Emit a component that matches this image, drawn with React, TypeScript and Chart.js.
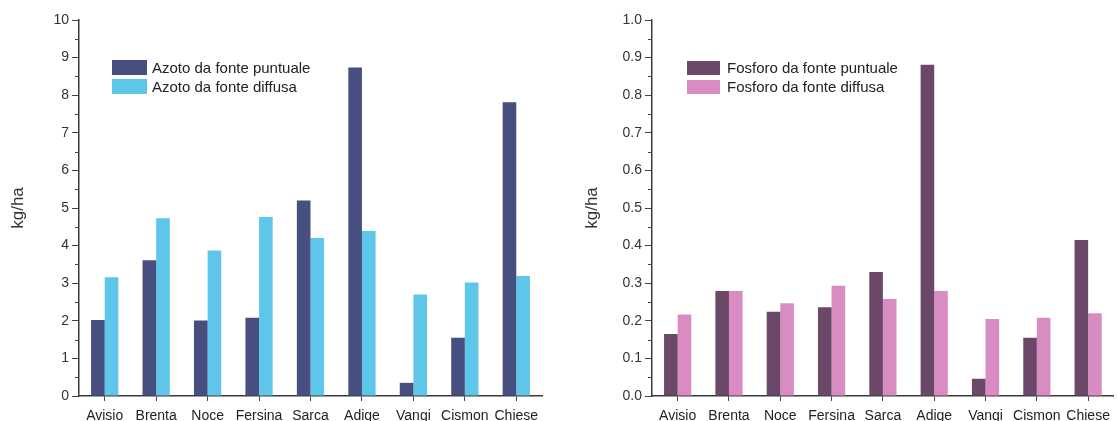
import React, { useEffect, useRef } from 'react';
import { Chart, registerables } from 'chart.js';

Chart.register(...registerables);

const categories = ['Avisio', 'Brenta', 'Noce', 'Fersina', 'Sarca', 'Adige', 'Vangi', 'Cismon', 'Chiese'];
const azotoPuntuale = [2.02, 3.61, 2.01, 2.08, 5.2, 8.74, 0.35, 1.55, 7.81];
const azotoDiffusa = [3.16, 4.73, 3.87, 4.76, 4.2, 4.39, 2.7, 3.02, 3.19];
const fosforoPuntuale = [0.165, 0.279, 0.224, 0.236, 0.33, 0.881, 0.046, 0.155, 0.415];
const fosforoDiffusa = [0.217, 0.279, 0.247, 0.293, 0.258, 0.279, 0.205, 0.208, 0.22];
const azotoLabels = ['Azoto da fonte puntuale', 'Azoto da fonte diffusa'];
const fosforoLabels = ['Fosforo da fonte puntuale', 'Fosforo da fonte diffusa'];
const yTitle = 'kg/ha';

const FONT = '"Liberation Sans", Arial, sans-serif';
const CANVAS_H = 440;
const PLOT_BOTTOM = 396;
const PLOT_TOP = 20;

const minorTicksPlugin = {
  id: 'minorTicks',
  afterDraw(chart: any, _args: any, opts: any) {
    const s = chart.scales.y;
    const ctx = chart.ctx;
    ctx.save();
    ctx.strokeStyle = opts.color || '#444';
    ctx.lineWidth = 1;
    const n = Math.round(opts.max / opts.step);
    for (let i = 0; i <= n; i++) {
      if (i % 2 === 0) continue;
      const y = Math.round(s.getPixelForValue(i * opts.step)) + 0.5;
      ctx.beginPath();
      ctx.moveTo(s.right - 4, y);
      ctx.lineTo(s.right, y);
      ctx.stroke();
    }
    ctx.restore();
  },
};

const boxLegendPlugin = {
  id: 'boxLegend',
  afterDraw(chart: any, _args: any, opts: any) {
    const { ctx, chartArea } = chart;
    ctx.save();
    ctx.font = '15px ' + FONT;
    ctx.textBaseline = 'middle';
    ctx.textAlign = 'left';
    chart.data.datasets.forEach((ds: any, i: number) => {
      const x = chartArea.left + opts.dx;
      const y = chartArea.top + opts.dy + i * opts.rowGap;
      ctx.fillStyle = ds.backgroundColor;
      ctx.fillRect(x, y, opts.boxW, opts.boxH);
      ctx.fillStyle = '#222';
      ctx.fillText(ds.label, x + opts.boxW + opts.textGap, y + opts.boxH / 2 + 1);
    });
    ctx.restore();
  },
};

type PanelProps = {
  width: number;
  yWidth: number;
  padRight: number;
  titlePad: number;
  max: number;
  step: number;
  decimals: number;
  labels: string[];
  series: number[][];
  colors: string[];
  legend: { dx: number; dy: number; boxW: number; boxH: number; rowGap: number; textGap: number };
};

function Panel(p: PanelProps) {
  const ref = useRef<HTMLCanvasElement>(null);
  useEffect(() => {
    if (!ref.current) return;
    const chart = new Chart(ref.current, {
      type: 'bar',
      data: {
        labels: categories,
        datasets: p.series.map((d, i) => ({
          label: p.labels[i],
          data: d,
          backgroundColor: p.colors[i],
          borderWidth: 0,
          categoryPercentage: 0.53,
          barPercentage: 1,
        })),
      },
      options: {
        animation: false,
        responsive: false,
        devicePixelRatio: 1,
        layout: { padding: { top: PLOT_TOP, right: p.padRight, left: 0, bottom: 0 } },
        plugins: {
          legend: { display: false },
          tooltip: { enabled: false },
          minorTicks: { step: p.step / 2, max: p.max, color: '#444' },
          boxLegend: p.legend,
        } as any,
        scales: {
          x: {
            offset: true,
            grid: { display: true, drawOnChartArea: false, offset: false, tickLength: 5, color: '#444', lineWidth: 1 },
            border: { display: true, color: '#3a3a3a', width: 1.5 },
            ticks: { font: { size: 14, family: FONT }, color: '#222', padding: 7, maxRotation: 0, autoSkip: false },
            afterFit: (s: any) => {
              s.height = CANVAS_H - PLOT_BOTTOM;
            },
          },
          y: {
            min: 0,
            max: p.max,
            grid: { display: true, drawOnChartArea: false, tickLength: 7, color: '#444', lineWidth: 1 },
            border: { display: true, color: '#3a3a3a', width: 1.5 },
            ticks: {
              stepSize: p.step,
              font: { size: 14, family: FONT },
              color: '#333',
              padding: 3,
              callback: (v: any) => Number(v).toFixed(p.decimals),
            },
            title: {
              display: true,
              text: yTitle,
              font: { size: 17, family: FONT },
              color: '#333',
              padding: { top: p.titlePad, bottom: 0 },
            },
            afterFit: (s: any) => {
              s.width = p.yWidth;
            },
          },
        },
      },
      plugins: [minorTicksPlugin, boxLegendPlugin],
    });
    return () => chart.destroy();
  }, []);
  return <canvas ref={ref} width={p.width} height={CANVAS_H} style={{ display: 'block', width: p.width, height: CANVAS_H }} />;
}

export default function App() {
  return (
    <div style={{ position: 'fixed', left: 0, top: 0, width: 1117, height: 421, overflow: 'hidden', background: '#fff' }}>
      <div style={{ position: 'absolute', left: 0, top: 0 }}>
        <Panel
          width={560}
          yWidth={79}
          padRight={18}
          titlePad={8}
          max={10}
          step={1}
          decimals={0}
          labels={azotoLabels}
          series={[azotoPuntuale, azotoDiffusa]}
          colors={['#474f80', '#5ec6e8']}
          legend={{ dx: 33, dy: 40, boxW: 35, boxH: 15, rowGap: 19, textGap: 5 }}
        />
      </div>
      <div style={{ position: 'absolute', left: 560, top: 0 }}>
        <Panel
          width={557}
          yWidth={92}
          padRight={1}
          titlePad={22}
          max={1}
          step={0.1}
          decimals={1}
          labels={fosforoLabels}
          series={[fosforoPuntuale, fosforoDiffusa]}
          colors={['#6c4868', '#d98cc2']}
          legend={{ dx: 35, dy: 41, boxW: 33, boxH: 14, rowGap: 19, textGap: 7 }}
        />
      </div>
    </div>
  );
}
